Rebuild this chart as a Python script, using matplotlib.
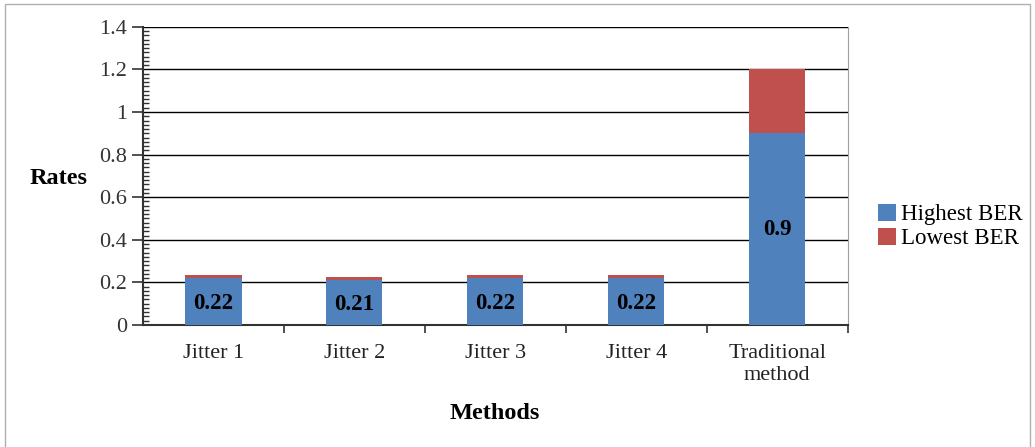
import matplotlib
matplotlib.use("Agg")
import matplotlib.pyplot as plt
from matplotlib.patches import Rectangle
from matplotlib.ticker import MultipleLocator

methods = ["Jitter 1", "Jitter 2", "Jitter 3", "Jitter 4", "Traditional\nmethod"]
highest_ber = [0.22, 0.21, 0.22, 0.22, 0.9]
lowest_ber = [0.015, 0.015, 0.015, 0.015, 0.3]
bar_labels = ["0.22", "0.21", "0.22", "0.22", "0.9"]

BLUE = "#4F81BD"
RED = "#C0504D"

plt.rcParams["font.family"] = ["Liberation Serif", "DejaVu Serif"]

fig = plt.figure(figsize=(10.35, 4.47), dpi=100)
ax = fig.add_axes([0.138, 0.273, 0.681, 0.667])

x = list(range(len(methods)))
ax.bar(x, highest_ber, width=0.4, color=BLUE, label="Highest BER", zorder=3)
ax.bar(x, lowest_ber, width=0.4, bottom=highest_ber, color=RED,
       label="Lowest BER", zorder=3)

for xi, h, text in zip(x, highest_ber, bar_labels):
    ax.text(xi, h / 2 if h > 0.5 else h / 2 - 0.01, text, ha="center", va="center",
            fontsize=16.5, fontweight="bold", color="black", zorder=4)

ax.set_xlim(-0.5, len(methods) - 0.5)
ax.set_ylim(0, 1.4)
ax.yaxis.set_major_locator(MultipleLocator(0.2))
ax.yaxis.set_minor_locator(MultipleLocator(0.02))
ax.set_yticks([0, 0.2, 0.4, 0.6, 0.8, 1.0, 1.2, 1.4])
ax.set_yticklabels(["0", "0.2", "0.4", "0.6", "0.8", "1", "1.2", "1.4"])
ax.grid(axis="y", color="black", linewidth=1.0, zorder=0)

ax.set_xticks(x)
ax.set_xticklabels(methods)
ax.set_xticks([i + 0.5 for i in x], minor=True)
ax.tick_params(axis="x", which="major", length=0, labelsize=16, pad=14,
               labelcolor="#222222")
ax.tick_params(axis="x", which="minor", length=6, direction="out",
               color="#333333", width=1.2)
ax.tick_params(axis="y", which="major", length=8, direction="out",
               labelsize=16, labelcolor="#333333", color="#333333", width=1.2)
ax.tick_params(axis="y", which="minor", length=4, direction="in",
               color="#333333", width=1.0)

ax.spines["top"].set_visible(False)
ax.spines["right"].set_color("#a0a0a0")
ax.spines["left"].set_color("#333333")
ax.spines["left"].set_linewidth(1.5)
ax.spines["bottom"].set_color("#333333")
ax.spines["bottom"].set_linewidth(1.5)

fig.text(0.029, 0.60, "Rates", fontsize=17.5, fontweight="bold", ha="left", va="center")
fig.text(0.478, 0.075, "Methods", fontsize=17.5, fontweight="bold", ha="center", va="center")

ax.legend(loc="center left", bbox_to_anchor=(1.03, 0.33), frameon=False,
          fontsize=16.5, handlelength=0.8, handleheight=0.8, handletextpad=0.2,
          labelspacing=0.1, borderaxespad=0)

fig.patches.append(Rectangle((0.005, -0.05), 0.99, 1.04, transform=fig.transFigure,
                             fill=False, edgecolor="#b0b0b0", linewidth=1.0))

fig.savefig("out.png", dpi=100)
